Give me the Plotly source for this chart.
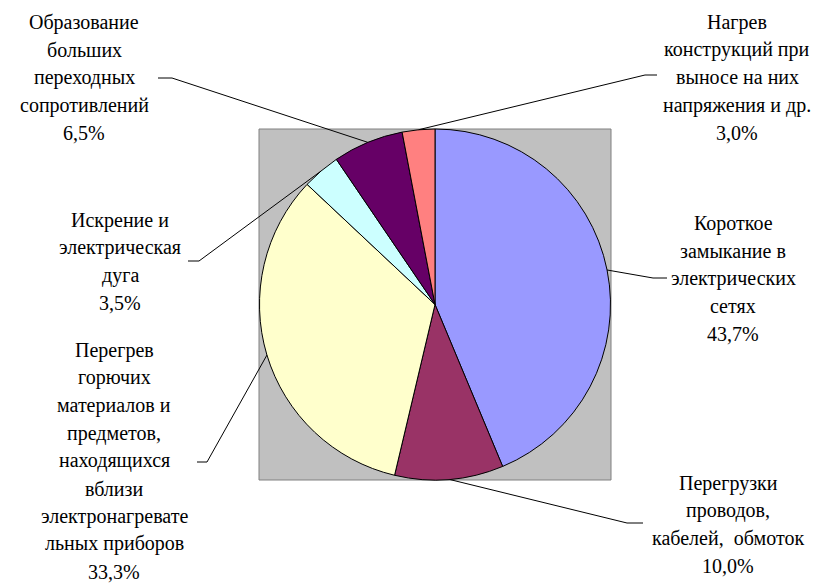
import numpy as np
import plotly.graph_objects as go

# window size and the page's default body margin
WIN_W, WIN_H, OFF = 822, 588, 8
W, H = WIN_W - OFF, WIN_H - OFF

# Data (clockwise from 12 o'clock)
categories = [
    "Короткое\nзамыкание в\nэлектрических\nсетях",
    "Перегрузки\nпроводов,\nкабелей,  обмоток",
    "Перегрев\nгорючих\nматериалов и\nпредметов,\nнаходящихся\nвблизи\nэлектронагревате\nльных приборов",
    "Искрение и\nэлектрическая\nдуга",
    "Образование\nбольших\nпереходных\nсопротивлений",
    "Нагрев\nконструкций при\nвыносе на них\nнапряжения и др.",
]
values = [43.7, 10.0, 33.3, 3.5, 6.5, 3.0]
colors = ["#9999FF", "#993366", "#FFFFCC", "#CCFFFF", "#660066", "#FF8080"]

# label layout (window pixels): text centre x, first line y, leader elbow, leader end
label_pos = [(733, 223), (728, 483), (114, 350), (120, 220), (84, 22), (737, 22)]
elbows = [(653, 278), (627, 523), (207, 462), (199, 261), (172, 78), (645, 75)]
ends = [(667, 278), (643, 523), (197, 462), (188, 261), (158, 78), (657, 75)]
line_h = 27.7

# plot area (gray square) in window pixels
x0, x1, y0, y1 = 259, 611, 129, 480
cx, cy = (x0 + x1) / 2, (y0 + y1) / 2
r = min(x1 - x0, y1 - y0) / 2

FONT = "Times New Roman"


def px(x):
    return (x - OFF) / W


def py(y):
    return 1 - (y - OFF) / H


fig = go.Figure()
fig.add_trace(go.Pie(
    values=values,
    labels=[c.replace("\n", " ") for c in categories],
    marker=dict(colors=colors, line=dict(color="black", width=1)),
    sort=False,
    direction="clockwise",
    rotation=0,
    textinfo="none",
    hoverinfo="label+percent",
    showlegend=False,
    domain=dict(x=[px(x0), px(x1)], y=[py(y1), py(y0)]),
))

shapes = [dict(type="rect", xref="paper", yref="paper",
               x0=px(x0), x1=px(x1), y0=py(y1), y1=py(y0),
               fillcolor="#C0C0C0", line=dict(color="#808080", width=1),
               layer="below")]

annotations = []
total = sum(values)
cum = 0
for i, v in enumerate(values):
    mid = (cum + v / 2) / total * 2 * np.pi
    cum += v
    rx = cx + r * np.sin(mid)
    ry = cy - r * np.cos(mid)
    ex, ey = elbows[i]
    tx, ty = ends[i]
    path = f"M {px(rx)} {py(ry)} L {px(ex)} {py(ey)} L {px(tx)} {py(ty)}"
    shapes.append(dict(type="path", xref="paper", yref="paper", path=path,
                       line=dict(color="black", width=1)))
    lines = categories[i].split("\n") + [f"{v:.1f}".replace(".", ",") + "%"]
    lx, ly = label_pos[i]
    for k, t in enumerate(lines):
        annotations.append(dict(
            text=t, x=px(lx), y=py(ly + k * line_h), xref="paper", yref="paper",
            xanchor="center", yanchor="middle", showarrow=False,
            font=dict(family=FONT, size=20, color="#000000"),
        ))

fig.update_layout(
    width=W, height=H,
    margin=dict(l=0, r=0, t=0, b=0),
    font=dict(family=FONT),
    paper_bgcolor="white",
    plot_bgcolor="white",
    shapes=shapes,
    annotations=annotations,
)

fig.write_html("out.html")
